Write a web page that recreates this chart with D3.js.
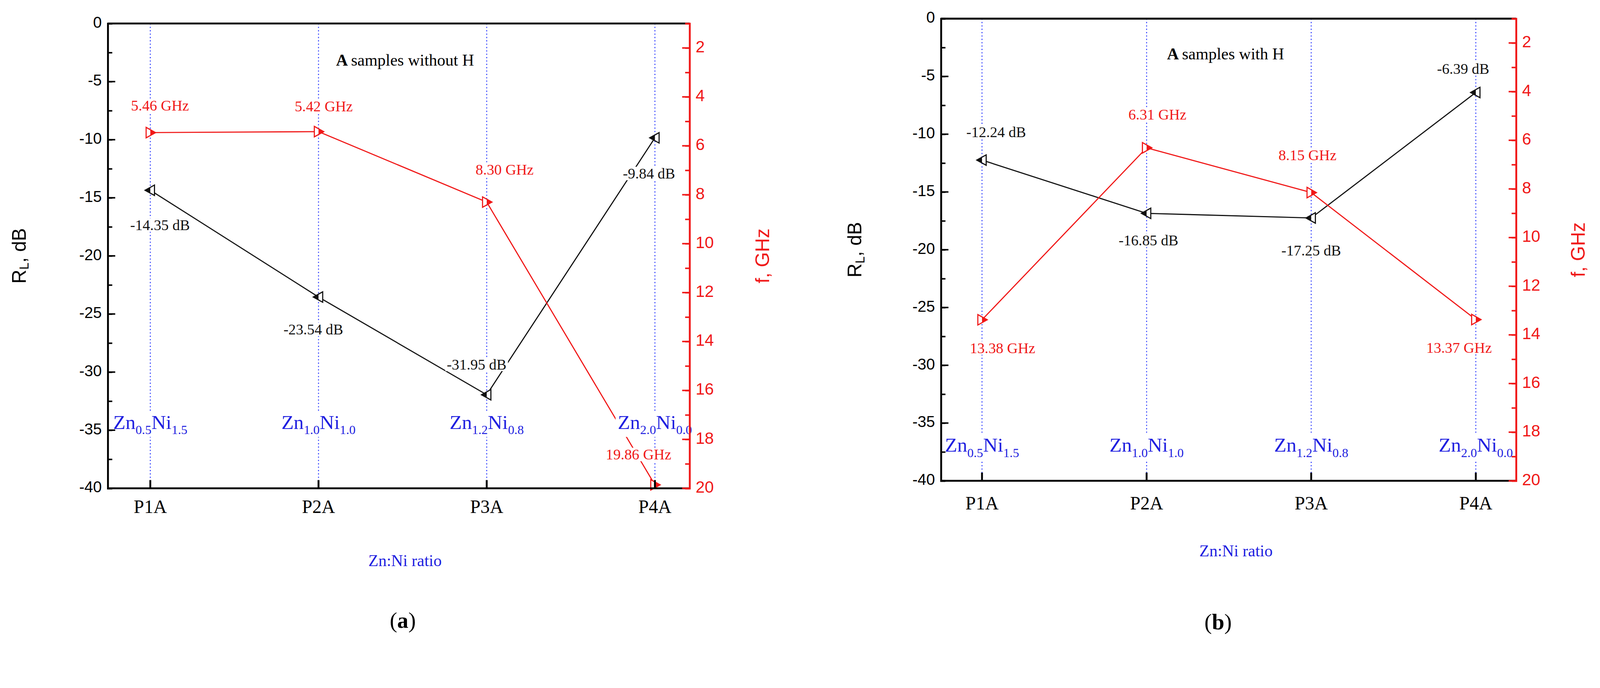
<!DOCTYPE html>
<html>
<head>
<meta charset="utf-8">
<script src="https://cdn.jsdelivr.net/npm/d3@7"></script>
<style>
  html, body { margin: 0; padding: 0; background: #fff; overflow: hidden; }
  svg { display: block; width: 100vw; height: 100vh; }
  svg text { font-family: "Liberation Serif", serif; }
  .sans { font-family: "Liberation Sans", Arial, sans-serif !important; }
</style>
</head>
<body>
<svg id="chart" viewBox="0 0 4290 1761" preserveAspectRatio="xMinYMin meet"></svg>
<script>
"use strict";

let categories = ['P1A', 'P2A', 'P3A', 'P4A'];
let compounds = [['0.5', '1.5'], ['1.0', '1.0'], ['1.2', '0.8'], ['2.0', '0.0']];
let rlTicks = [0, -5, -10, -15, -20, -25, -30, -35, -40];
let fTicks = [2, 4, 6, 8, 10, 12, 14, 16, 18, 20];

// panel (a) - without H
let rlA = [-14.35, -23.54, -31.95, -9.84];
let fA = [5.46, 5.42, 8.30, 19.86];
// panel (b) - with H
let rlB = [-12.24, -16.85, -17.25, -6.39];
let fB = [13.38, 6.31, 8.15, 13.37];

let svg = d3.select('#chart');

let panels = [
  {
    rl: rlA, f: fA, title: 'samples without H', tag: 'a',
    left: 289, right: 1849, top: 63, bottom: 1309,
    x0: 403, x1: 1756, compY: 1150, catY: 1364, xTitleY: 1508, xTitleX: 1086, tagX: 1080, tagY: 1669,
    titleX: 1086, titleY: 166, rlLabelX: 55, fLabelX: 2049,
    rlOff: [[26, 98], [-14, 91], [-27, -77], [-16, 100]],
    fOff: [[26, -68], [14, -64], [48, -83], [-44, -77]]
  },
  {
    rl: rlB, f: fB, title: 'samples with H', tag: 'b',
    left: 2523, right: 4065, top: 50, bottom: 1289,
    x0: 2633, x1: 3957, compY: 1211, catY: 1354, xTitleY: 1481, xTitleX: 3314, tagX: 3266, tagY: 1674,
    titleX: 3286, titleY: 149, rlLabelX: 2296, fLabelX: 4235,
    rlOff: [[38, -71], [5, 77], [0, 91], [-34, -59]],
    fOff: [[55, 80], [29, -85], [-10, -96], [-45, 80]]
  }
];

let triPath = (dir, s) => dir < 0
  ? `M${-s},0L${s * 0.8},${-s}L${s * 0.8},${s}Z`
  : `M${s},0L${-s * 0.8},${-s}L${-s * 0.8},${s}Z`;

panels.forEach(p => {
  let g = svg.append('g');
  let x = d3.scalePoint().domain(categories).range([p.x0, p.x1]);
  let y = d3.scaleLinear().domain([-40, 0]).range([p.bottom, p.top]);
  let y2 = d3.scaleLinear().domain([1, 20]).range([p.top, p.bottom]);

  // blue dotted guide lines
  g.selectAll('.guide').data(categories).enter().append('line')
    .attr('x1', d => x(d)).attr('x2', d => x(d))
    .attr('y1', p.top).attr('y2', p.bottom)
    .attr('stroke', '#2030ff').attr('stroke-width', 2.5).attr('stroke-dasharray', '3,6');

  // lines
  let lineRL = d3.line().x((d, i) => x(categories[i])).y(d => y(d));
  let lineF = d3.line().x((d, i) => x(categories[i])).y(d => y2(d));
  g.append('path').attr('d', lineRL(p.rl)).attr('fill', 'none').attr('stroke', '#111').attr('stroke-width', 3);
  g.append('path').attr('d', lineF(p.f)).attr('fill', 'none').attr('stroke', '#f01818').attr('stroke-width', 3);

  // labels with white background that break the lines
  let addLabel = (tx, ty, txt, color) => {
    let t = g.append('text').attr('x', tx).attr('y', ty)
      .attr('text-anchor', 'middle').attr('dominant-baseline', 'middle')
      .attr('font-size', 40).attr('fill', color).text(txt);
    let b = t.node().getBBox();
    g.insert('rect', function () { return t.node(); })
      .attr('x', b.x - 4).attr('y', b.y + 4).attr('width', b.width + 8).attr('height', b.height - 8)
      .attr('fill', '#fff');
  };
  p.rl.forEach((v, i) => addLabel(x(categories[i]) + p.rlOff[i][0], y(v) + p.rlOff[i][1], v.toFixed(2) + ' dB', '#111'));
  p.f.forEach((v, i) => addLabel(x(categories[i]) + p.fOff[i][0], y2(v) + p.fOff[i][1], v.toFixed(2) + ' GHz', '#f01818'));

  // compound labels
  compounds.forEach((c, i) => {
    let t = g.append('text').attr('x', x(categories[i])).attr('y', p.compY)
      .attr('text-anchor', 'middle').attr('fill', '#2020e0').attr('font-size', 54);
    t.append('tspan').text('Zn');
    t.append('tspan').attr('font-size', 34).attr('dy', 14).text(c[0]);
    t.append('tspan').attr('dy', -14).text('Ni');
    t.append('tspan').attr('font-size', 34).attr('dy', 14).text(c[1]);
    let b = t.node().getBBox();
    g.insert('rect', function () { return t.node(); })
      .attr('x', b.x - 6).attr('y', b.y).attr('width', b.width + 12).attr('height', b.height)
      .attr('fill', '#fff');
  });

  // markers
  g.selectAll('.mrl').data(p.rl).enter().append('path')
    .attr('transform', (d, i) => `translate(${x(categories[i])},${y(d)})`)
    .attr('d', triPath(-1, 14)).attr('fill', '#fff').attr('stroke', '#111').attr('stroke-width', 3);
  g.selectAll('.mrl2').data(p.rl).enter().append('path')
    .attr('transform', (d, i) => `translate(${x(categories[i])},${y(d)})`)
    .attr('d', `M-14,0L0,-8L0,8Z`).attr('fill', '#111');
  g.selectAll('.mf').data(p.f).enter().append('path')
    .attr('transform', (d, i) => `translate(${x(categories[i])},${y2(d)})`)
    .attr('d', triPath(1, 14)).attr('fill', '#fff').attr('stroke', '#f01818').attr('stroke-width', 3);
  g.selectAll('.mf2').data(p.f).enter().append('path')
    .attr('transform', (d, i) => `translate(${x(categories[i])},${y2(d)})`)
    .attr('d', `M14,0L0,-8L0,8Z`).attr('fill', '#f01818');

  // frame
  g.append('line').attr('x1', p.left).attr('x2', p.right).attr('y1', p.top).attr('y2', p.top)
    .attr('stroke', '#000').attr('stroke-width', 5);
  g.append('line').attr('x1', p.left).attr('x2', p.right).attr('y1', p.bottom).attr('y2', p.bottom)
    .attr('stroke', '#000').attr('stroke-width', 5);

  // left axis
  let yAx = g.append('g').attr('transform', `translate(${p.left},0)`)
    .call(d3.axisRight(y).tickValues(d3.range(-40, 0.1, 2.5)).tickSize(12).tickFormat(''));
  yAx.selectAll('line').attr('stroke-width', 4);
  yAx.select('.domain').attr('stroke-width', 5);
  rlTicks.forEach(v => {
    g.append('line').attr('x1', p.left).attr('x2', p.left + 20).attr('y1', y(v)).attr('y2', y(v))
      .attr('stroke', '#000').attr('stroke-width', 4);
    g.append('text').attr('class', 'sans').attr('x', p.left - 16).attr('y', y(v))
      .attr('text-anchor', 'end').attr('dominant-baseline', 'middle').attr('font-size', 42).text(v);
  });

  // right axis
  let y2Ax = g.append('g').attr('transform', `translate(${p.right},0)`)
    .call(d3.axisLeft(y2).tickValues(d3.range(1, 20.1, 1)).tickSize(12).tickFormat(''));
  y2Ax.selectAll('line').attr('stroke', '#f01818').attr('stroke-width', 4);
  y2Ax.select('.domain').attr('stroke', '#f01818').attr('stroke-width', 5);
  fTicks.forEach(v => {
    g.append('line').attr('x1', p.right - 20).attr('x2', p.right).attr('y1', y2(v)).attr('y2', y2(v))
      .attr('stroke', '#f01818').attr('stroke-width', 4);
    g.append('text').attr('class', 'sans').attr('x', p.right + 16).attr('y', y2(v))
      .attr('dominant-baseline', 'middle').attr('font-size', 44).attr('fill', '#f01818').text(v);
  });

  // bottom ticks and labels
  categories.forEach(c => {
    g.append('line').attr('x1', x(c)).attr('x2', x(c)).attr('y1', p.bottom).attr('y2', p.bottom - 22)
      .attr('stroke', '#000').attr('stroke-width', 5);
    g.append('text').attr('x', x(c)).attr('y', p.catY).attr('text-anchor', 'middle')
      .attr('dominant-baseline', 'middle').attr('font-size', 50).text(c);
  });

  // titles
  let tt = g.append('text').attr('x', p.titleX).attr('y', p.titleY).attr('text-anchor', 'middle')
    .attr('dominant-baseline', 'middle').attr('font-size', 44);
  tt.append('tspan').attr('font-weight', 'bold').text('A ');
  tt.append('tspan').text(p.title);

  g.append('text').attr('x', p.xTitleX).attr('y', p.xTitleY).attr('text-anchor', 'middle')
    .attr('dominant-baseline', 'middle').attr('font-size', 44).attr('fill', '#2020e0').text('Zn:Ni ratio');

  let tg = g.append('text').attr('x', p.tagX).attr('y', p.tagY).attr('text-anchor', 'middle')
    .attr('dominant-baseline', 'middle').attr('font-size', 60);
  tg.append('tspan').text('(');
  tg.append('tspan').attr('font-weight', 'bold').text(p.tag);
  tg.append('tspan').text(')');

  let yMid = (p.top + p.bottom) / 2;
  let rlT = g.append('text').attr('class', 'sans')
    .attr('transform', `translate(${p.rlLabelX},${yMid}) rotate(-90)`)
    .attr('text-anchor', 'middle').attr('dominant-baseline', 'middle').attr('font-size', 52);
  rlT.append('tspan').text('R');
  rlT.append('tspan').attr('font-size', 34).attr('dy', 12).text('L');
  rlT.append('tspan').attr('dy', -12).text(', dB');

  g.append('text').attr('class', 'sans')
    .attr('transform', `translate(${p.fLabelX},${yMid}) rotate(-90)`)
    .attr('text-anchor', 'middle').attr('dominant-baseline', 'middle').attr('font-size', 52)
    .attr('fill', '#f01818').text('f, GHz');
});
</script>
</body>
</html>
